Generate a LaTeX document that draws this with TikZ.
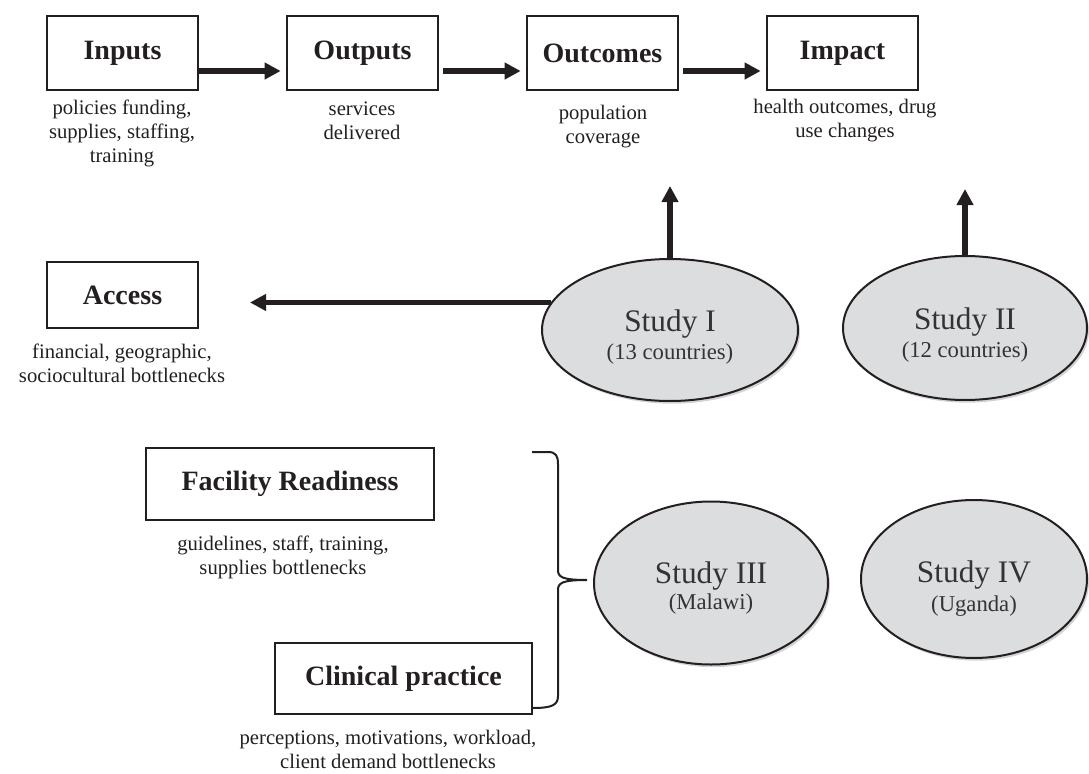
\documentclass[tikz,border=0pt]{standalone}
\usepackage{fontspec}
\setmainfont{Liberation Serif}
\usepackage{xcolor}
\usepackage{tikz}
\usetikzlibrary{arrows.meta,shadows,shapes.geometric}

\definecolor{studyfill}{RGB}{220,221,223}
\definecolor{inkgray}{RGB}{35,31,32}

\begin{document}
\begin{tikzpicture}[x=0.75pt, y=-0.75pt,
    box/.style={draw=inkgray, line width=1.5pt, rectangle, minimum width=113.25pt, minimum height=55.5pt,
                font=\bfseries\fontsize{21}{24}\selectfont, text=inkgray},
    note/.style={align=center, font=\fontsize{15.5}{18}\selectfont, text=inkgray},
    study/.style={draw=inkgray, line width=1.5pt, ellipse, fill=studyfill, inner sep=0pt,
                  drop shadow={shadow xshift=1.5pt, shadow yshift=-2pt, opacity=0.35},
                  align=center, text=black!80, font=\fontsize{23.5}{24}\selectfont},
    flow/.style={-{Triangle[length=12pt, width=12pt]}, line width=4pt, draw=inkgray}]
    \useasboundingbox (0,0) rectangle (1089,774);

    % top chain
    \node[box] (inputs) at (122.5,53) {Inputs};
    \node[box] (outputs) at (362.5,53) {Outputs};
    \node[box] (outcomes) at (602.5,53) {Outcomes};
    \node[box] (impact) at (842.5,53) {Impact};

    \node[note] (inputsnote) at (122,133) {policies funding,\\supplies, staffing,\\training};
    \node[note] (outputsnote) at (362,121) {services\\delivered};
    \node[note] (outcomesnote) at (603,127) {population\\coverage};
    \node[note] (impactnote) at (845,121) {health outcomes, drug\\use changes};

    \draw[flow, shorten >=4pt] ([yshift=-13.5pt]inputs.east) -- ([yshift=-13.5pt]outputs.west);
    \draw[flow, shorten <=3pt, shorten >=4pt] ([yshift=-13.5pt]outputs.east) -- ([yshift=-13.5pt]outcomes.west);
    \draw[flow, shorten <=3pt, shorten >=4pt] ([yshift=-13.5pt]outcomes.east) -- ([yshift=-13.5pt]impact.west);

    % access
    \node[box, minimum height=49.5pt] (access) at (122.5,295) {Access};
    \node[note] (accessnote) at (122,363) {financial, geographic,\\sociocultural bottlenecks};

    % studies I and II
    \node[study, minimum width=192pt, minimum height=106.5pt] (study1) at (670,330)
        {\rule{0pt}{27pt}Study I\\[-2.5pt]{\fontsize{17}{20}\selectfont (13 countries)}};
    \node[study, minimum width=183pt, minimum height=108pt] (study2) at (965,328)
        {\rule{0pt}{27pt}Study II\\[-2.5pt]{\fontsize{17}{20}\selectfont (12 countries)}};

    \coordinate (tip1) at (670,186);
    \coordinate (tip2) at (965,189);
    \coordinate (accesstip) at (250,303);
    \draw[flow] (study1.north) -- (tip1);
    \draw[flow] (study2.north) -- (tip2);
    \draw[flow] (study1.167) -- (study1.167 -| accesstip);

    % readiness and practice
    \node[box, minimum width=216pt, minimum height=54pt] (readiness) at (290,484) {Facility Readiness};
    \node[note] (readinessnote) at (283,557) {guidelines, staff, training,\\supplies bottlenecks};
    \node[box, minimum width=192.75pt, minimum height=53.25pt] (practice) at (403.5,678.5) {Clinical practice};
    \node[note] (practicenote) at (388,749) {perceptions, motivations, workload,\\client demand bottlenecks};

    % brace
    \draw[inkgray, line width=1.5pt] (532,452) -- (548,452) .. controls (556,452) and (558,456) .. (558,464)
        -- (558,570) .. controls (558,577) and (562,580) .. (587,580)
        .. controls (562,580) and (558,583) .. (558,590) -- (558,696)
        .. controls (558,705) and (552,708) .. (533,708);

    % studies III and IV
    \node[study, minimum width=175.5pt, minimum height=122.25pt] (study3) at (711,583)
        {\rule{0pt}{24pt}Study III\\[-5pt]{\fontsize{17}{20}\selectfont (Malawi)}};
    \node[study, minimum width=169.5pt, minimum height=118.5pt] (study4) at (974,579)
        {\rule{0pt}{31pt}Study IV\\[-2pt]{\fontsize{17}{20}\selectfont (Uganda)}};
\end{tikzpicture}
\end{document}
